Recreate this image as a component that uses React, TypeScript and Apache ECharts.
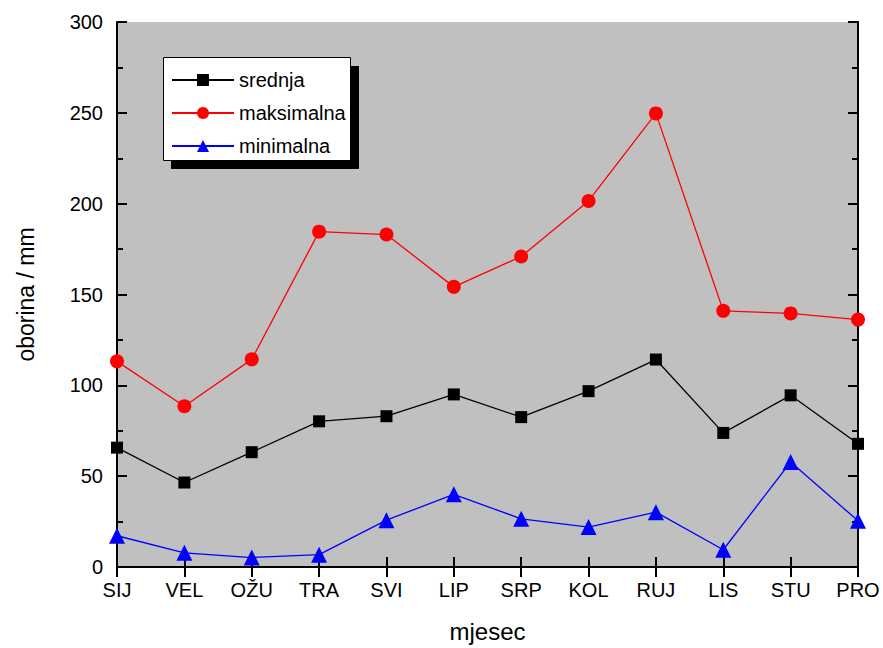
import React, { useEffect, useRef } from "react";
import * as echarts from "echarts";

const months = ["SIJ", "VEL", "OŽU", "TRA", "SVI", "LIP", "SRP", "KOL", "RUJ", "LIS", "STU", "PRO"];
const srednja = [65.7, 46.5, 63.2, 80.2, 83, 95, 82.5, 96.8, 114.2, 73.8, 94.5, 67.8];
const maksimalna = [113.2, 88.5, 114.3, 184.6, 183, 154.2, 170.9, 201.5, 249.7, 141, 139.6, 136.2];
const minimalna = [17.2, 7.8, 5.2, 6.8, 25.8, 40, 26.5, 22, 30.2, 9.5, 57.8, 25.4];
const yTicks = [0, 50, 100, 150, 200, 250, 300];

const FONT = 'Arial, "Liberation Sans", sans-serif';

export default function App() {
  const ref = useRef<HTMLDivElement>(null);
  useEffect(() => {
    const chart = echarts.init(ref.current!, null, { renderer: "svg" });
    const axisLine = { show: true, lineStyle: { color: "#000", width: 2 } };
    const yBase = {
      type: "value",
      min: yTicks[0],
      max: yTicks[yTicks.length - 1],
      interval: 50,
      axisLine,
      axisTick: { show: true, inside: true, length: 10, lineStyle: { color: "#000", width: 2 } },
      minorTick: { show: true, splitNumber: 2, length: 6, lineStyle: { color: "#000", width: 2 } },
      splitLine: { show: false },
    };
    const xBase = {
      type: "category",
      data: months,
      boundaryGap: false,
      axisLine,
      axisTick: { show: true, inside: true, length: 10, lineStyle: { color: "#000", width: 2 } },
      splitLine: { show: false },
    };
    chart.setOption({
      animation: false,
      textStyle: { fontFamily: FONT },
      grid: {
        left: 117,
        right: 25,
        top: 22,
        bottom: 79,
        show: true,
        backgroundColor: "#c0c0c0",
        borderWidth: 0,
      },
      xAxis: [
        {
          ...xBase,
          position: "bottom",
          name: "mjesec",
          nameLocation: "middle",
          nameGap: 52,
          nameTextStyle: { fontSize: 24, color: "#000", fontFamily: FONT },
          axisLabel: { fontSize: 20, color: "#000", margin: 13, fontFamily: FONT },
        },
        {
          ...xBase,
          position: "top",
          axisLabel: { show: false },
        },
      ],
      yAxis: [
        {
          ...yBase,
          position: "left",
          name: "oborina / mm",
          nameLocation: "middle",
          nameGap: 80,
          nameTextStyle: { fontSize: 23, color: "#000", fontFamily: FONT },
          axisLabel: { fontSize: 20, color: "#000", margin: 14, fontFamily: FONT },
        },
        {
          ...yBase,
          position: "right",
          axisLabel: { show: false },
        },
      ],
      graphic: [
        {
          type: "rect",
          z: 10,
          shape: { x: 171, y: 66, width: 188, height: 103 },
          style: { fill: "#000" },
        },
        {
          type: "rect",
          z: 11,
          shape: { x: 163.5, y: 57.5, width: 187, height: 103 },
          style: { fill: "#fff", stroke: "#000", lineWidth: 1 },
        },
      ],
      legend: {
        z: 20,
        orient: "vertical",
        left: 171,
        top: 70,
        padding: 0,
        itemWidth: 62,
        itemHeight: 15,
        itemGap: 13,
        textStyle: { fontSize: 20, color: "#000", fontFamily: FONT },
        data: ["srednja", "maksimalna", "minimalna"],
      },
      series: [
        {
          name: "srednja",
          type: "line",
          data: srednja,
          symbol: "rect",
          symbolSize: 12,
          color: "#000",
          lineStyle: { color: "#000", width: 1.3 },
          itemStyle: { color: "#000" },
        },
        {
          name: "maksimalna",
          type: "line",
          data: maksimalna,
          symbol: "circle",
          symbolSize: 14,
          color: "#ff0000",
          lineStyle: { color: "#ff0000", width: 1.3 },
          itemStyle: { color: "#ff0000" },
        },
        {
          name: "minimalna",
          type: "line",
          data: minimalna,
          symbol: "triangle",
          symbolSize: 16,
          color: "#0000ff",
          lineStyle: { color: "#0000ff", width: 1.3 },
          itemStyle: { color: "#0000ff" },
        },
      ],
    });
    return () => chart.dispose();
  }, []);
  return <div ref={ref} style={{ width: 883, height: 648, position: "absolute", left: 0, top: 0 }} />;
}
